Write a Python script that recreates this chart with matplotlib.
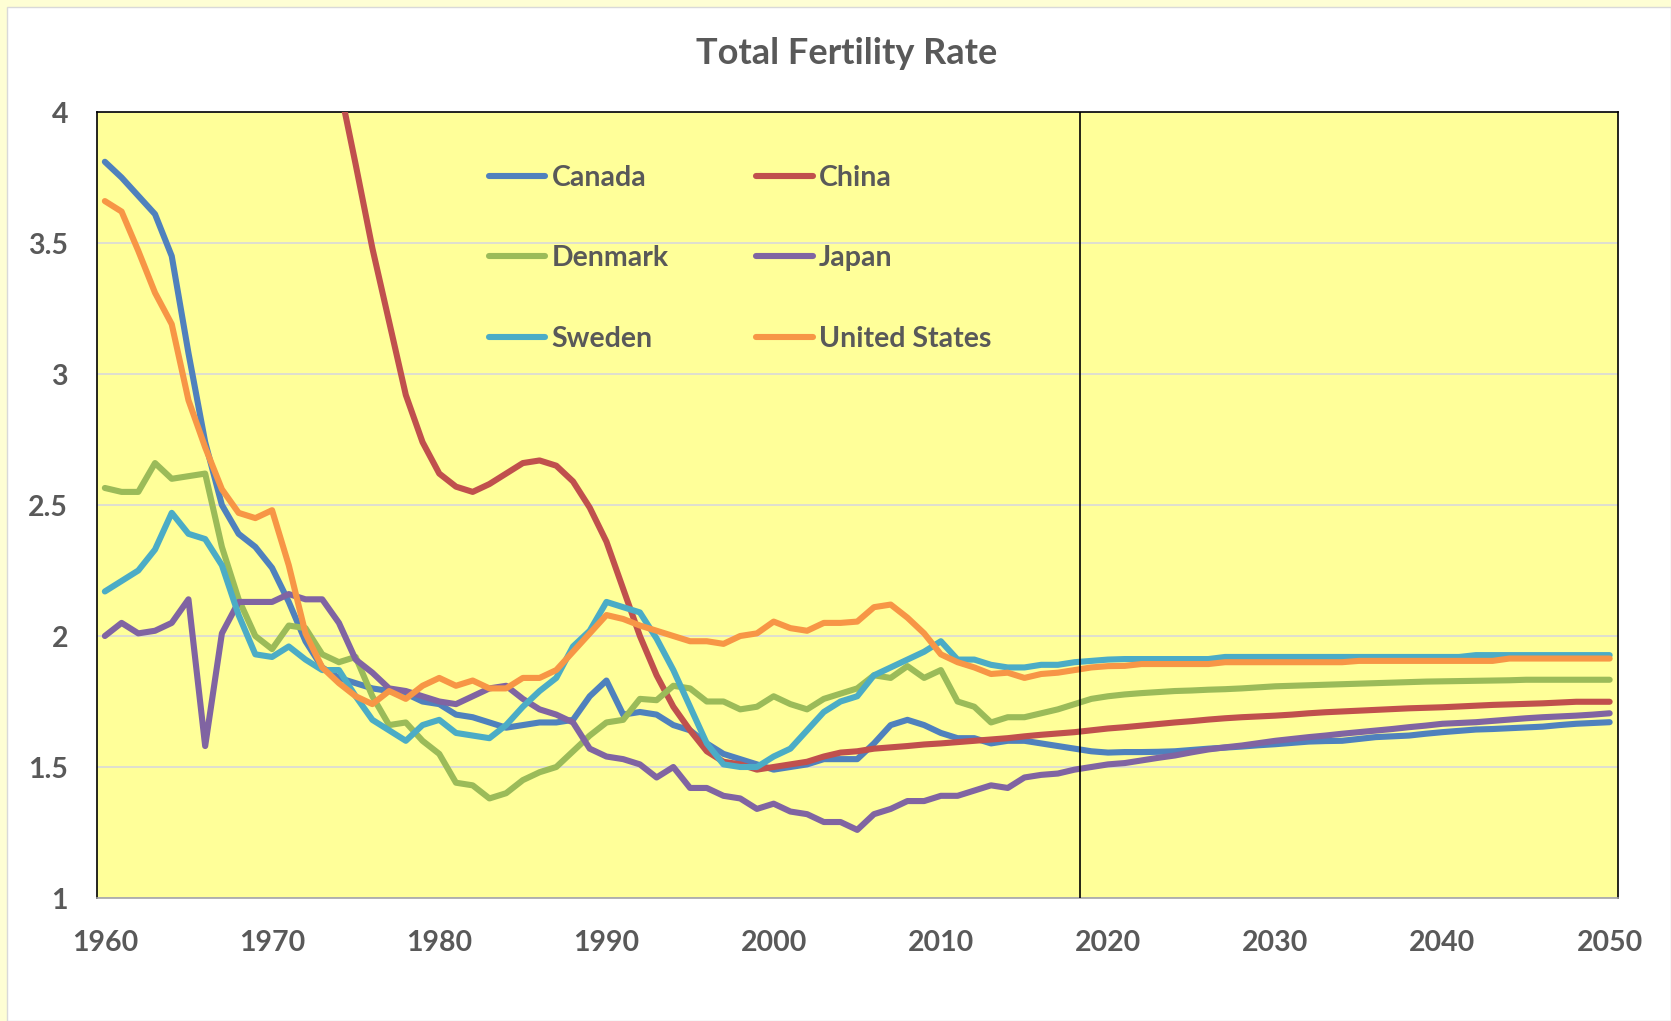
import matplotlib
matplotlib.use("Agg")
import matplotlib.pyplot as plt
import numpy as np
from matplotlib.patches import Rectangle

nan = np.nan
years = list(range(1960, 2051))

canada = [
    3.81, 3.75, 3.68, 3.61, 3.45, 3.08, 2.74, 2.50, 2.39, 2.34,
    2.26, 2.13, 1.98, 1.88, 1.84, 1.82, 1.80, 1.79, 1.78, 1.75,
    1.74, 1.70, 1.69, 1.67, 1.65, 1.66, 1.67, 1.67, 1.68, 1.77,
    1.83, 1.70, 1.71, 1.70, 1.66, 1.64, 1.59, 1.55, 1.53, 1.51,
    1.49, 1.50, 1.51, 1.53, 1.53, 1.53, 1.59, 1.66, 1.68, 1.66,
    1.63, 1.61, 1.61, 1.59, 1.60, 1.60, 1.59, 1.58, 1.57, 1.56,
    1.555, 1.557, 1.557, 1.558, 1.560, 1.565, 1.570, 1.574, 1.578, 1.583,
    1.587, 1.592, 1.597, 1.599, 1.600, 1.607, 1.614, 1.617, 1.620, 1.627,
    1.633, 1.638, 1.643, 1.645, 1.648, 1.651, 1.654, 1.660, 1.665, 1.668,
    1.671,
]
china = [
    nan, nan, nan, nan, nan, nan, nan, nan, nan, nan,
    nan, nan, nan, nan, 4.11, 3.80, 3.48, 3.20, 2.92, 2.74,
    2.62, 2.57, 2.55, 2.58, 2.62, 2.66, 2.67, 2.65, 2.59, 2.49,
    2.36, 2.18, 2.00, 1.85, 1.73, 1.64, 1.56, 1.52, 1.51, 1.49,
    1.50, 1.51, 1.52, 1.54, 1.555, 1.56, 1.57, 1.575, 1.58, 1.586,
    1.59, 1.595, 1.60, 1.605, 1.61, 1.617, 1.623, 1.628, 1.633, 1.64,
    1.647, 1.652, 1.658, 1.664, 1.670, 1.675, 1.681, 1.686, 1.690, 1.693,
    1.696, 1.700, 1.705, 1.709, 1.712, 1.715, 1.718, 1.721, 1.724, 1.726,
    1.728, 1.731, 1.734, 1.737, 1.739, 1.741, 1.743, 1.746, 1.749, 1.749,
    1.749,
]
denmark = [
    2.565, 2.55, 2.55, 2.66, 2.60, 2.61, 2.62, 2.34, 2.14, 2.00,
    1.95, 2.04, 2.03, 1.93, 1.90, 1.92, 1.77, 1.66, 1.67, 1.60,
    1.55, 1.44, 1.43, 1.38, 1.40, 1.45, 1.48, 1.50, 1.56, 1.62,
    1.67, 1.68, 1.76, 1.755, 1.81, 1.80, 1.75, 1.75, 1.72, 1.73,
    1.77, 1.74, 1.72, 1.76, 1.78, 1.80, 1.85, 1.84, 1.885, 1.84,
    1.87, 1.75, 1.73, 1.67, 1.69, 1.69, 1.705, 1.72, 1.74, 1.76,
    1.77, 1.777, 1.782, 1.786, 1.79, 1.792, 1.795, 1.797, 1.80, 1.804,
    1.808, 1.81, 1.812, 1.814, 1.816, 1.818, 1.82, 1.822, 1.824, 1.826,
    1.827, 1.828, 1.829, 1.83, 1.831, 1.833, 1.833, 1.833, 1.833, 1.833,
    1.833,
]
japan = [
    2.00, 2.05, 2.01, 2.02, 2.05, 2.14, 1.58, 2.01, 2.13, 2.13,
    2.13, 2.16, 2.14, 2.14, 2.05, 1.91, 1.86, 1.80, 1.79, 1.77,
    1.75, 1.74, 1.77, 1.80, 1.81, 1.76, 1.72, 1.70, 1.67, 1.57,
    1.54, 1.53, 1.51, 1.46, 1.50, 1.42, 1.42, 1.39, 1.38, 1.34,
    1.36, 1.33, 1.32, 1.29, 1.29, 1.26, 1.32, 1.34, 1.37, 1.37,
    1.39, 1.39, 1.41, 1.43, 1.42, 1.46, 1.47, 1.475, 1.49, 1.50,
    1.51, 1.515, 1.525, 1.535, 1.544, 1.556, 1.567, 1.575, 1.582, 1.591,
    1.60, 1.607, 1.614, 1.62, 1.627, 1.633, 1.639, 1.645, 1.652, 1.658,
    1.665, 1.668, 1.671, 1.676, 1.681, 1.686, 1.69, 1.693, 1.696, 1.70,
    1.705,
]
sweden = [
    2.17, 2.21, 2.25, 2.33, 2.47, 2.39, 2.37, 2.27, 2.08, 1.93,
    1.92, 1.96, 1.91, 1.87, 1.87, 1.77, 1.68, 1.64, 1.60, 1.66,
    1.68, 1.63, 1.62, 1.61, 1.66, 1.73, 1.79, 1.84, 1.96, 2.02,
    2.13, 2.11, 2.09, 1.99, 1.87, 1.73, 1.59, 1.51, 1.50, 1.50,
    1.54, 1.57, 1.64, 1.71, 1.75, 1.77, 1.85, 1.88, 1.91, 1.94,
    1.98, 1.91, 1.91, 1.89, 1.88, 1.88, 1.89, 1.89, 1.90, 1.905,
    1.91, 1.912, 1.912, 1.912, 1.912, 1.912, 1.912, 1.92, 1.92, 1.92,
    1.92, 1.92, 1.92, 1.92, 1.92, 1.92, 1.92, 1.92, 1.92, 1.92,
    1.92, 1.92, 1.927, 1.927, 1.927, 1.927, 1.927, 1.927, 1.927, 1.927,
    1.927,
]
united_states = [
    3.66, 3.62, 3.47, 3.31, 3.19, 2.90, 2.72, 2.56, 2.47, 2.45,
    2.48, 2.27, 2.01, 1.88, 1.82, 1.77, 1.74, 1.79, 1.76, 1.81,
    1.84, 1.81, 1.83, 1.80, 1.80, 1.84, 1.84, 1.87, 1.94, 2.01,
    2.08, 2.065, 2.04, 2.02, 2.00, 1.98, 1.98, 1.97, 2.00, 2.01,
    2.055, 2.03, 2.02, 2.05, 2.05, 2.055, 2.11, 2.12, 2.07, 2.01,
    1.93, 1.90, 1.88, 1.855, 1.86, 1.84, 1.855, 1.86, 1.87, 1.88,
    1.885, 1.886, 1.893, 1.893, 1.893, 1.893, 1.893, 1.90, 1.90, 1.90,
    1.90, 1.90, 1.90, 1.90, 1.90, 1.905, 1.905, 1.905, 1.905, 1.905,
    1.905, 1.905, 1.905, 1.905, 1.914, 1.914, 1.914, 1.914, 1.914, 1.914,
    1.914,
]

series_names = ["Canada", "China", "Denmark", "Japan", "Sweden", "United States"]
series_values = [canada, china, denmark, japan, sweden, united_states]
series_colors = ["#4F81BD", "#C0504D", "#9BBB59", "#8064A2", "#4BACC6", "#F79646"]

x_ticks = [1960, 1970, 1980, 1990, 2000, 2010, 2020, 2030, 2040, 2050]
y_ticks = [1, 1.5, 2, 2.5, 3, 3.5, 4]
y_tick_labels = ["1", "1.5", "2", "2.5", "3", "3.5", "4"]
divider_year = 2018.35
title = "Total Fertility Rate"

FONT = "Lato"
TXT = "#595959"
FS = 20.5
LW = 4.4

W, H = 1671, 1021
fig = plt.figure(figsize=(W / 100, H / 100), dpi=100)
fig.patch.set_facecolor("#FEFED4")
fig.patches.append(Rectangle((7 / W, 0), 1 - 7 / W, 1 - 7 / H, transform=fig.transFigure,
                             facecolor="white", edgecolor="#D9D9D9", linewidth=1.0,
                             zorder=-10))

left, right, top, bottom = 96.5, 1618, 112, 898
ax = fig.add_axes([left / W, 1 - bottom / H, (right - left) / W, (bottom - top) / H])
ax.set_zorder(1)
ax.set_facecolor("#FFFF99")

for name, vals, col in zip(series_names, series_values, series_colors):
    ax.plot(years, vals, color=col, lw=LW, solid_joinstyle="round",
            solid_capstyle="round", label=name, zorder=3)

ax.axvline(divider_year, color="black", lw=1.2, zorder=4)

ax.set_xlim(1959.5, 2050.5)
ax.set_ylim(1, 4)
ax.set_yticks(y_ticks)
ax.set_yticklabels(y_tick_labels)
ax.set_xticks(x_ticks)
ax.set_xticklabels([str(t) for t in x_ticks])
ax.yaxis.grid(True, color="#D9D9D9", lw=1.2, zorder=1)
ax.set_axisbelow(True)
ax.tick_params(axis="both", length=0, labelsize=FS, labelcolor=TXT)
ax.tick_params(axis="y", pad=20.5)
ax.tick_params(axis="x", pad=23)
for lab in ax.get_xticklabels() + ax.get_yticklabels():
    lab.set_fontfamily(FONT)
    lab.set_fontweight("bold")

for s in ["left", "top", "right"]:
    ax.spines[s].set_color("black")
    ax.spines[s].set_linewidth(1.2)
ax.spines["bottom"].set_color("#A6A6A6")
ax.spines["bottom"].set_linewidth(1.2)

fig.text(847 / W, 1 - 54 / H, title, ha="center", va="center", fontsize=26,
         fontweight="bold", color=TXT, fontfamily=FONT)

handles, labels = ax.get_legend_handles_labels()
order = [0, 2, 4, 1, 3, 5]
leg = ax.legend([handles[i] for i in order], [labels[i] for i in order],
                ncol=2, frameon=False, loc="upper left",
                bbox_to_anchor=(489 / W, 1 - 164.5 / H), bbox_transform=fig.transFigure,
                prop={"family": FONT, "weight": "bold", "size": FS},
                handlelength=1.97, handletextpad=0.23, labelspacing=1.92,
                columnspacing=3.08, borderpad=0, borderaxespad=0)
for t in leg.get_texts():
    t.set_color(TXT)
for l in leg.get_lines():
    l.set_linewidth(LW)
    l.set_solid_capstyle("round")

fig.savefig("out.png", dpi=100, facecolor=fig.get_facecolor())
